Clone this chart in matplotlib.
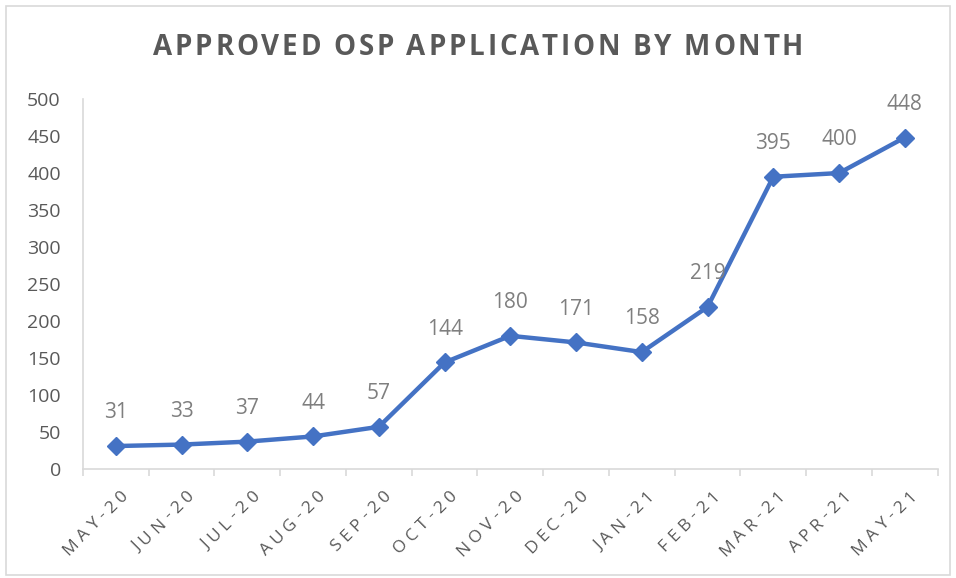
import matplotlib
matplotlib.use('Agg')
import matplotlib.pyplot as plt
import numpy as np
from matplotlib.patches import Rectangle
from matplotlib.font_manager import FontProperties

LINE_COLOR = '#4472C4'
TEXT_COLOR = '#595959'
LABEL_COLOR = '#7F7F7F'
AXIS_COLOR = '#D9D9D9'

months = ['MAY-20', 'JUN-20', 'JUL-20', 'AUG-20', 'SEP-20', 'OCT-20', 'NOV-20',
          'DEC-20', 'JAN-21', 'FEB-21', 'MAR-21', 'APR-21', 'MAY-21']
approved = [31, 33, 37, 44, 57, 144, 180, 171, 158, 219, 395, 400, 448]
y_ticks = [0, 50, 100, 150, 200, 250, 300, 350, 400, 450, 500]
title = 'APPROVED OSP APPLICATION BY MONTH'

FONT = ['Open Sans', 'DejaVu Sans']
plt.rcParams['font.family'] = FONT

W, H = 956, 578
fig = plt.figure(figsize=(W / 100, H / 100), dpi=100)
fig.patch.set_facecolor('white')
renderer = fig.canvas.get_renderer()

# light frame round the chart area
fig.patches.append(Rectangle((0.006, 0.005), 0.988, 0.985, transform=fig.transFigure,
                             fill=False, edgecolor=AXIS_COLOR, linewidth=1.2))

ax = fig.add_axes([0.0868, 0.1886, 0.894, 0.64])
x = np.arange(len(months))
ax.plot(x, approved, color=LINE_COLOR, linewidth=3.2, marker='D', markersize=9,
        markerfacecolor=LINE_COLOR, markeredgecolor=LINE_COLOR, zorder=3)

for xi, v in zip(x, approved):
    ax.annotate(str(v), (xi, v), xytext=(0, 24), textcoords='offset points',
                ha='center', va='center', fontsize=15, color=LABEL_COLOR)

ax.set_xlim(-0.5, len(months) - 0.5)
ax.set_ylim(0, 500)
ax.set_yticks(y_ticks)
ax.set_yticklabels([str(t) for t in y_ticks], fontsize=14, color=TEXT_COLOR)
ax.tick_params(axis='y', length=0, pad=16)

# x labels are drawn by hand below (letter-spaced), keep only boundary ticks
ax.set_xticks(np.arange(-0.5, len(months), 1))
ax.set_xticklabels([])
ax.tick_params(axis='x', length=5, color=AXIS_COLOR, width=1.2)

for side in ['top', 'right']:
    ax.spines[side].set_visible(False)
for side in ['left', 'bottom']:
    ax.spines[side].set_color(AXIS_COLOR)
    ax.spines[side].set_linewidth(1.2)


def char_widths(s, prop):
    return [renderer.get_text_width_height_descent(c, prop, ismath=False)[0] for c in s]


def spaced_text(s, end_xy, prop, spacing, angle, color):
    """Letter-spaced text ending (top-right) at end_xy in display pixels."""
    widths = char_widths(s, prop)
    total = sum(widths) + spacing * (len(s) - 1)
    d = np.array([np.cos(np.radians(angle)), np.sin(np.radians(angle))])
    start = np.array(end_xy) - total * d
    pos = 0.0
    for c, w in zip(s, widths):
        px, py = start + pos * d
        fig.text(px / W, py / H, c, fontproperties=prop, color=color,
                 ha='left', va='top', rotation=angle, rotation_mode='anchor')
        pos += w + spacing


# title, spaced out like the Excel chart title
title_prop = FontProperties(family=FONT, size=20, weight='bold')
tw = char_widths(title, title_prop)
target_w = 650
t_space = (target_w - sum(tw)) / (len(title) - 1)
spaced_text(title, (W / 2 + target_w / 2, H - 33), title_prop, t_space, 0, TEXT_COLOR)

# rotated month labels
tick_prop = FontProperties(family=FONT, size=12.5)
for xi, m in zip(x, months):
    dx, dy = ax.transData.transform((xi, 0))
    spaced_text(m, (dx + 4, dy - 19), tick_prop, 4.5, 45, TEXT_COLOR)

fig.savefig('out.png', dpi=100, facecolor='white')
